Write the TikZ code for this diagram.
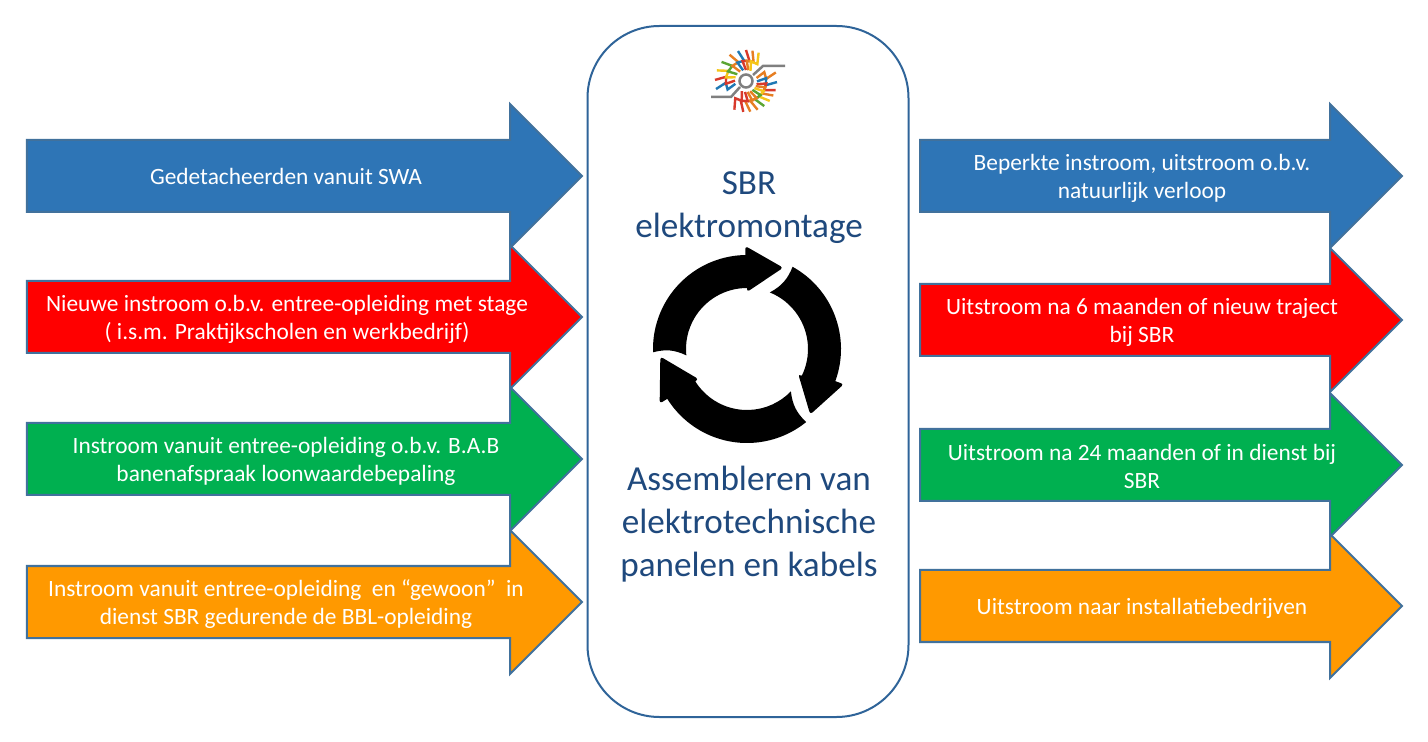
\documentclass[tikz,border=0pt]{standalone}
\usepackage{fontspec}
\setmainfont{Carlito}
\usetikzlibrary{positioning,calc}
\definecolor{armblue}{HTML}{2E75B6}
\definecolor{armred}{HTML}{FF0000}
\definecolor{armgreen}{HTML}{00B050}
\definecolor{armorange}{HTML}{FF9900}
\definecolor{armline}{HTML}{41719C}
\definecolor{boxline}{HTML}{2F6499}
\definecolor{titleblue}{HTML}{1F497D}
\definecolor{logogrey}{HTML}{7F7F7F}
\definecolor{logoyellow}{HTML}{F5C518}
\definecolor{logoorange}{HTML}{E67E22}
\definecolor{logored}{HTML}{D8392B}
\definecolor{logoblue}{HTML}{1F78B4}
\definecolor{logogreen}{HTML}{5BA532}
\tikzset{
 armtext/.style={text=white, align=center, font=\fontsize{6.65}{7.95}\selectfont},
 titletext/.style={text=titleblue, align=center, font=\fontsize{10}{12.2}\selectfont},
 bolt/.style={line width=.024cm, line join=miter},
}
% #1 fill, #2 left end, #3 neck, #4 tip, #5 middle
\newcommand{\blockarrow}[5]{
 \draw[draw=armline, line width=.02cm, fill=#1, line join=miter] (#2+.01, #5+.36) -- (#3, #5+.36) -- (#3, #5+.72) -- (#4, #5)
   -- (#3, #5-.72) -- (#3, #5-.36) -- (#2+.01, #5-.36) -- cycle;
}
\begin{document}
\begin{tikzpicture}
\useasboundingbox (0, 0) rectangle (14.28, -7.42);
\fill[white] (0, 0) rectangle (14.28, -7.42);
% left side
\blockarrow{armblue}{.26}{5.10}{5.82}{-1.76}
\blockarrow{armred}{.26}{5.10}{5.82}{-3.17}
\blockarrow{armgreen}{.26}{5.10}{5.82}{-4.59}
\blockarrow{armorange}{.26}{5.10}{5.82}{-6.02}
\node[armtext] (in1) at (2.86, -1.76) {Gedetacheerden vanuit SWA};
\node[armtext] (in2) at (2.87, -3.19) {Nieuwe instroom o.b.v. entree-opleiding met stage\\( i.s.m. Praktijkscholen en werkbedrijf)};
\node[armtext] (in3) at (2.86, -4.61) {Instroom vanuit entree-opleiding o.b.v. B.A.B\\banenafspraak loonwaardebepaling};
\node[armtext] (in4) at (2.86, -6.04) {Instroom vanuit entree-opleiding\ \ en “gewoon”\ \ in\\dienst SBR gedurende de BBL-opleiding};
% right side
\blockarrow{armblue}{9.19}{13.30}{14.02}{-1.76}
\blockarrow{armred}{9.19}{13.30}{14.02}{-3.20}
\blockarrow{armgreen}{9.19}{13.30}{14.02}{-4.65}
\blockarrow{armorange}{9.19}{13.30}{14.02}{-6.06}
\node[armtext] (out1) at (11.42, -1.78) {Beperkte instroom, uitstroom o.b.v.\\natuurlijk verloop};
\node[armtext] (out2) at (11.42, -3.22) {Uitstroom na 6 maanden of nieuw traject\\bij SBR};
\node[armtext] (out3) at (11.42, -4.66) {Uitstroom na 24 maanden of in dienst bij\\SBR};
\node[armtext] (out4) at (11.42, -6.08) {Uitstroom naar installatiebedrijven};
% middle
\node[draw=boxline, line width=.02cm, fill=white, rounded corners=.72cm, minimum width=3.21cm, minimum height=6.91cm] (panel) at (7.48, -3.715) {};
\node[titletext] (title) at (7.49, -2.08) {SBR\\elektromontage};
\node[titletext] (task) at (7.49, -5.24) {Assembleren van\\elektrotechnische\\panelen en kabels};
% cycle
\begin{scope}[shift={(7.47, -3.49)}]
\foreach \to/\ti/\bo/\bi/\tip/\tr in {182/186/91/90/66/.89, 61/68/-20/-26/-46/.91, -51/-44/-148/-148/-175/.87} {
 \fill[black] (\to:.94) arc[start angle=\to, end angle=\bo, radius=.94] [rounded corners=.03cm] -- (\bo:1.03) -- (\tip:\tr) -- (\bi:.57) [sharp corners] -- (\bi:.61) arc[start angle=\bi, end angle=\ti, radius=.61] to[bend right=20] (\to:.94);
}
\end{scope}
% logo
\begin{scope}[shift={(7.46, -.81)}]
\draw[logogrey, line width=.025cm] (-.35, -.16) -- (-.15, -.16) -- (-.06, -.06);
\draw[logogrey, line width=.025cm] (.39, .15) -- (.17, .15) -- (.07, .06);
\foreach \a/\c in {195/logoblue, 178/logored, 160/logoyellow, 142/logogreen, 122/logoorange, 105/logoblue, 90/logored, 78/logoorange, 66/logoyellow,
 16/logoorange, -2/logoblue, -17/logored, -28/logoorange, -40/logoyellow, -54/logogreen, -68/logoorange, -82/logoorange, -95/logored, -112/logored} {
 \draw[\c, bolt, rotate=\a] (.11, 0) -- (.20, .035) -- (.20, -.035) -- (.31, 0);
}
\draw[logogrey, line width=.025cm, fill=white] (0, 0) circle (.065);
\end{scope}
\end{tikzpicture}
\end{document}
